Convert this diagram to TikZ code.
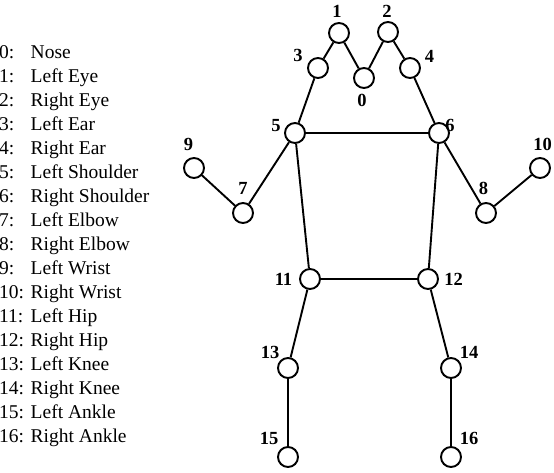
\documentclass[tikz,border=0pt]{standalone}
\usepackage{fontspec}
\setmainfont{Liberation Serif}
\begin{document}
\begin{tikzpicture}[x=1pt,y=-1pt,
  joint/.style={draw,circle,line width=1.9pt,minimum size=20pt,inner sep=0pt},
  bone/.style={line width=1.9pt},
  jlab/.style={inner sep=0pt,font=\fontsize{18.5}{21}\selectfont\bfseries},
  legtxt/.style={inner sep=0pt,anchor=base west,font=\fontsize{19.5}{23}\selectfont}]
\useasboundingbox (0,0) rectangle (554,472);
% joints
\node[joint] (j0) at (364,78) {};
\node[joint] (j1) at (339,33) {};
\node[joint] (j2) at (388,32) {};
\node[joint] (j3) at (318,68) {};
\node[joint] (j4) at (410,68) {};
\node[joint] (j5) at (295,133) {};
\node[joint] (j6) at (439,133) {};
\node[joint] (j7) at (243,213) {};
\node[joint] (j8) at (486,213) {};
\node[joint] (j9) at (194,168) {};
\node[joint] (j10) at (540,168) {};
\node[joint] (j11) at (310,279) {};
\node[joint] (j12) at (428,279) {};
\node[joint] (j13) at (288,368) {};
\node[joint] (j14) at (451,368) {};
\node[joint] (j15) at (288,457) {};
\node[joint] (j16) at (451,457) {};
% bones
\draw[bone] (j0) -- (j1);
\draw[bone] (j0) -- (j2);
\draw[bone] (j1) -- (j3);
\draw[bone] (j2) -- (j4);
\draw[bone] (j3) -- (j5);
\draw[bone] (j4) -- (j6);
\draw[bone] (j5) -- (j6);
\draw[bone] (j5) -- (j7);
\draw[bone] (j7) -- (j9);
\draw[bone] (j6) -- (j8);
\draw[bone] (j8) -- (j10);
\draw[bone] (j5) -- (j11);
\draw[bone] (j6) -- (j12);
\draw[bone] (j11) -- (j12);
\draw[bone] (j11) -- (j13);
\draw[bone] (j13) -- (j15);
\draw[bone] (j12) -- (j14);
\draw[bone] (j14) -- (j16);
% joint labels
\node[jlab] (l0) at (362,100.5) {0};
\node[jlab] (l1) at (337,11.5) {1};
\node[jlab] (l2) at (387,11.5) {2};
\node[jlab] (l3) at (298,55.5) {3};
\node[jlab] (l4) at (429.5,56) {4};
\node[jlab] (l5) at (276,126) {5};
\node[jlab] (l6) at (450,125) {6};
\node[jlab] (l7) at (243,188) {7};
\node[jlab] (l8) at (483.5,188) {8};
\node[jlab] (l9) at (188.5,144) {9};
\node[jlab] (l10) at (542.5,144) {10};
\node[jlab] (l11) at (283.5,279.5) {11};
\node[jlab] (l12) at (453.5,279.5) {12};
\node[jlab] (l13) at (270,352) {13};
\node[jlab] (l14) at (469,352) {14};
\node[jlab] (l15) at (269,438) {15};
\node[jlab] (l16) at (469,438) {16};
% legend
\foreach \i/\name in {0/Nose,1/Left Eye,2/Right Eye,3/Left Ear,4/Right Ear,5/Left Shoulder,6/Right Shoulder,7/Left Elbow,8/Right Elbow,9/Left Wrist,10/Right Wrist,11/Left Hip,12/Right Hip,13/Left Knee,14/Right Knee,15/Left Ankle,16/Right Ankle}{
  \node[legtxt] (n\i) at (-1,58+24*\i) {\i:};
  \node[legtxt] (t\i) at (30.5,58+24*\i) {\name};
}
\end{tikzpicture}
\end{document}
